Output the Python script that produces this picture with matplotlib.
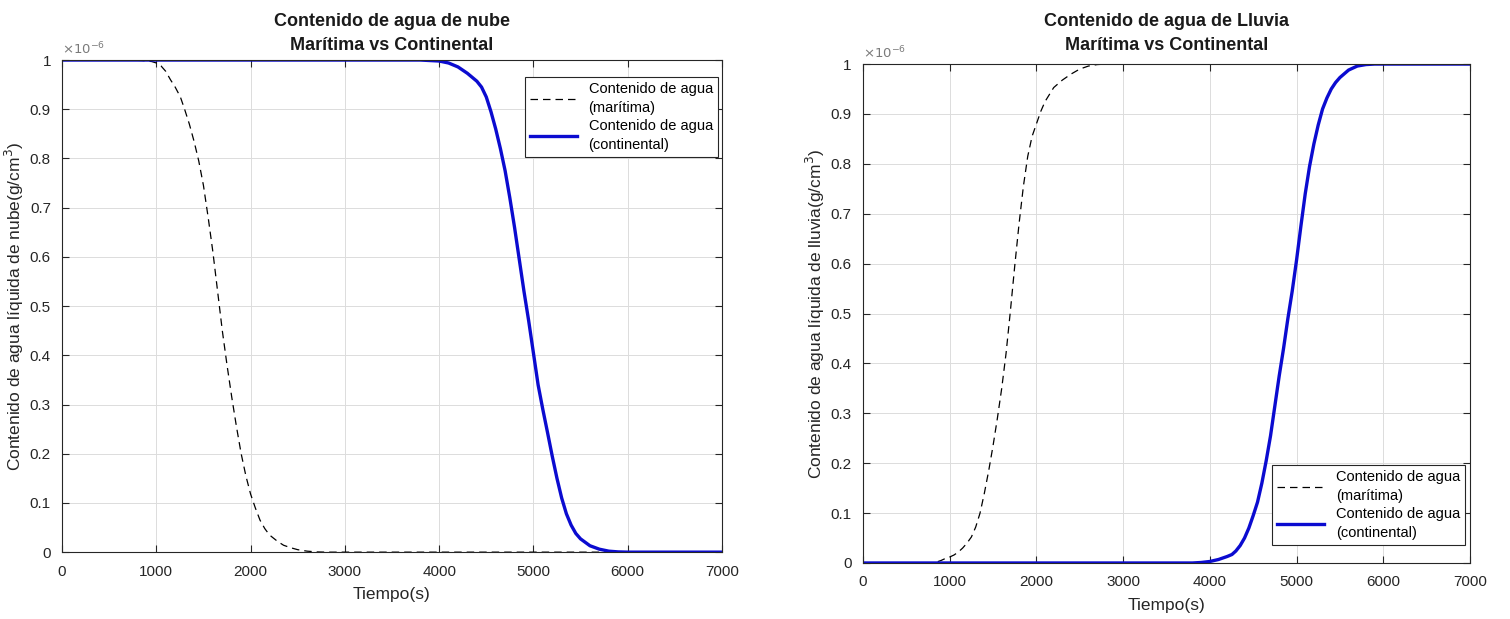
import numpy as np
import matplotlib
matplotlib.use("Agg")
import matplotlib.pyplot as plt
from matplotlib.ticker import FuncFormatter

plt.rcParams['font.family'] = ['Liberation Sans Narrow', 'Liberation Sans', 'DejaVu Sans']

# --- data (values in units of 1e-6 g/cm^3) ---
t_nube_mar = [0, 700, 850, 950, 1000, 1050, 1100, 1150, 1200, 1255, 1300, 1350, 1400,
              1450, 1500, 1550, 1600, 1650, 1700, 1750, 1800, 1850, 1900, 1950, 2000,
              2050, 2100, 2150, 2200, 2285, 2350, 2425, 2500, 2600, 2700, 2800, 7000]
q_nube_mar = [1.0, 1.0, 0.999, 0.997, 0.994, 0.988, 0.977, 0.96, 0.945, 0.925, 0.9,
              0.87, 0.835, 0.795, 0.745, 0.68, 0.61, 0.53, 0.45, 0.38, 0.315, 0.255,
              0.2, 0.155, 0.118, 0.09, 0.065, 0.048, 0.035, 0.022, 0.014, 0.009, 0.005,
              0.002, 0.0005, 0.0, 0.0]

t_nube_con = [0, 3800, 3900, 4000, 4100, 4200, 4300, 4400, 4450, 4500, 4550, 4600, 4650,
              4700, 4750, 4800, 4850, 4900, 4950, 5000, 5050, 5100, 5150, 5200, 5250,
              5300, 5350, 5400, 5450, 5500, 5600, 5700, 5800, 5900, 6000, 7000]
q_nube_con = [1.0, 1.0, 0.999, 0.998, 0.994, 0.986, 0.973, 0.957, 0.945, 0.925, 0.895,
              0.86, 0.82, 0.775, 0.72, 0.66, 0.595, 0.53, 0.47, 0.405, 0.34, 0.29, 0.243,
              0.195, 0.15, 0.11, 0.078, 0.055, 0.038, 0.027, 0.013, 0.006, 0.002, 0.0005,
              0.0, 0.0]

t_lluv_mar = [0, 800, 850, 900, 950, 1000, 1050, 1100, 1150, 1200, 1250, 1300, 1350,
              1400, 1450, 1500, 1550, 1600, 1650, 1700, 1750, 1800, 1850, 1900, 1950,
              2000, 2050, 2100, 2200, 2300, 2400, 2500, 2600, 2700, 2800, 7000]
q_lluv_mar = [0.0, 0.0, 0.002, 0.005, 0.009, 0.012, 0.016, 0.022, 0.03, 0.04, 0.052,
              0.072, 0.10, 0.14, 0.185, 0.235, 0.29, 0.35, 0.42, 0.505, 0.595, 0.68,
              0.755, 0.815, 0.855, 0.88, 0.905, 0.925, 0.953, 0.968, 0.98, 0.99, 0.996,
              0.999, 1.0, 1.0]

t_lluv_con = [0, 3800, 3900, 4000, 4100, 4200, 4255, 4300, 4350, 4400, 4450, 4500, 4550,
              4600, 4650, 4700, 4750, 4800, 4850, 4900, 4950, 5000, 5050, 5100, 5150,
              5200, 5250, 5300, 5350, 5400, 5450, 5500, 5600, 5700, 5800, 5900, 7000]
q_lluv_con = [0.0, 0.0, 0.001, 0.003, 0.007, 0.013, 0.017, 0.024, 0.035, 0.05, 0.07,
              0.095, 0.122, 0.16, 0.205, 0.255, 0.315, 0.375, 0.43, 0.49, 0.545, 0.607,
              0.675, 0.74, 0.795, 0.84, 0.878, 0.91, 0.932, 0.95, 0.963, 0.973, 0.988,
              0.996, 0.999, 1.0, 1.0]

x_ticks = [0, 1000, 2000, 3000, 4000, 5000, 6000, 7000]
y_ticks = [0, 0.1, 0.2, 0.3, 0.4, 0.5, 0.6, 0.7, 0.8, 0.9, 1.0]

lab_mar = 'Contenido de agua\n(marítima)'
lab_con = 'Contenido de agua\n(continental)'
BLUE = '#0b0bd0'
SCALE = 1e-6


def style_axes(ax, title, ylabel, legend_loc, legend_anchor, title_pad=7):
    ax.set_xlim(0, 7000)
    ax.set_ylim(0, 1 * SCALE)
    ax.set_xticks(x_ticks)
    ax.set_yticks([v * SCALE for v in y_ticks])
    ax.yaxis.set_major_formatter(FuncFormatter(lambda v, p: '%g' % round(v / SCALE, 6)))
    ax.tick_params(direction='in', top=True, right=True, labelsize=11, colors='#262626',
                   length=5, width=0.8)
    ax.tick_params(axis='x', pad=9)
    ax.tick_params(axis='y', pad=8)
    ax.grid(True, color='#dcdcdc', linewidth=0.7)
    ax.set_axisbelow(True)
    for s in ax.spines.values():
        s.set_color('#262626')
        s.set_linewidth(0.8)
    ax.set_title(title, fontsize=13, fontweight='bold', color='#1a1a1a', pad=title_pad,
                 linespacing=1.55)
    ax.set_xlabel('Tiempo(s)', fontsize=12.5, color='#262626', labelpad=6)
    ax.set_ylabel(ylabel, fontsize=12.5, color='#262626', labelpad=3)
    ax.text(0.0, 1.005, r'$\times10^{-6}$', transform=ax.transAxes, fontsize=9.5,
            color='#7a7a7a', ha='left', va='bottom')
    leg = ax.legend(loc=legend_loc, bbox_to_anchor=legend_anchor, fontsize=10.5,
                    fancybox=False, framealpha=1, edgecolor='#262626', handlelength=3.2,
                    borderpad=0.35, labelspacing=0.25, borderaxespad=0)
    for txt in leg.get_texts():
        txt.set_linespacing(1.45)
    leg.get_frame().set_linewidth(0.8)


fig = plt.figure(figsize=(15.1, 6.19), dpi=100)
ax1 = fig.add_axes([0.0411, 0.108, 0.437, 0.795])
ax2 = fig.add_axes([0.5715, 0.0905, 0.402, 0.806])

ax1.plot(t_nube_mar, [v * SCALE for v in q_nube_mar], '--', color='black', lw=0.9,
         dashes=(6, 4), label=lab_mar)
ax1.plot(t_nube_con, [v * SCALE for v in q_nube_con], '-', color=BLUE, lw=2.4,
         label=lab_con)
style_axes(ax1, 'Contenido de agua de nube\nMarítima vs Continental',
           'Contenido de agua líquida de nube(g/cm$^3$)', 'upper right', (0.994, 0.965))

ax2.plot(t_lluv_mar, [v * SCALE for v in q_lluv_mar], '--', color='black', lw=0.9,
         dashes=(6, 4), label=lab_mar)
ax2.plot(t_lluv_con, [v * SCALE for v in q_lluv_con], '-', color=BLUE, lw=2.4,
         label=lab_con)
style_axes(ax2, 'Contenido de agua de Lluvia\nMarítima vs Continental',
           'Contenido de agua líquida de lluvia(g/cm$^3$)', 'lower right', (0.992, 0.036),
           title_pad=10)

fig.savefig('out.png', dpi=100, facecolor='white')
